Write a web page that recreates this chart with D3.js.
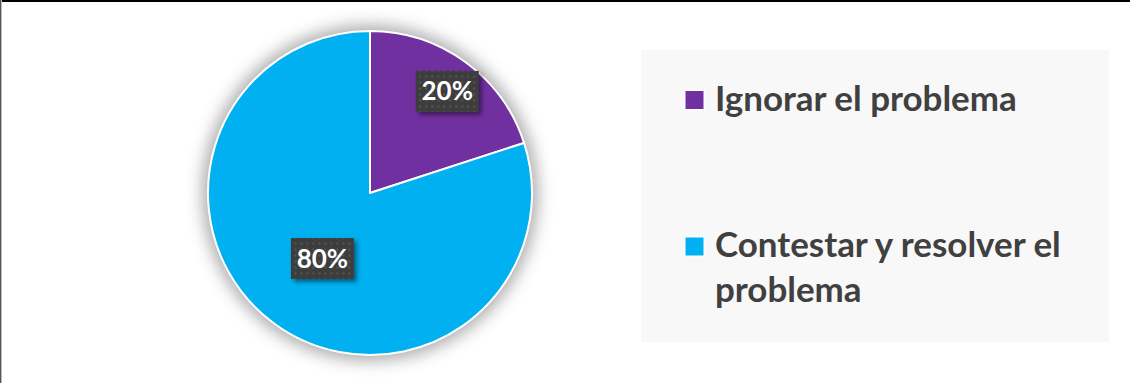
<!DOCTYPE html>
<html>
<head>
<meta charset="utf-8">
<script src="https://cdn.jsdelivr.net/npm/d3@7"></script>
<style>
  html, body { margin: 0; padding: 0; background: #fff; }
  svg { display: block; }
</style>
</head>
<body>
<svg id="chart" width="1130" height="383"></svg>
<script>
// Pie data: response choices and their shares
const categories = ["Ignorar el problema", "Contestar y resolver el problema"];
const values = [20, 80];
const labels = ["20%", "80%"];
const colors = ["#7030A0", "#00B0F0"];
// legend text broken into lines
const legendLines = [["Ignorar el problema"], ["Contestar y resolver el", "problema"]];

const svg = d3.select("#chart");
const W = 1130, H = 383;

// frame lines
svg.append("rect").attr("x", 0).attr("y", 0).attr("width", W).attr("height", 2).attr("fill", "#000");
svg.append("rect").attr("x", 0).attr("y", 0).attr("width", 1).attr("height", H).attr("fill", "#555");
svg.append("rect").attr("x", 1).attr("y", 0).attr("width", 1).attr("height", H).attr("fill", "#bbb");

const defs = svg.append("defs");
const glow = defs.append("filter").attr("id", "glow")
  .attr("x", "-25%").attr("y", "-25%").attr("width", "150%").attr("height", "150%");
glow.append("feGaussianBlur").attr("stdDeviation", 8);

const lblShadow = defs.append("filter").attr("id", "lblShadow")
  .attr("x", "-30%").attr("y", "-30%").attr("width", "160%").attr("height", "160%");
lblShadow.append("feDropShadow").attr("dx", 3).attr("dy", 3).attr("stdDeviation", 2)
  .attr("flood-color", "#000").attr("flood-opacity", 0.45);

const pat = defs.append("pattern").attr("id", "dots").attr("patternUnits", "userSpaceOnUse")
  .attr("width", 6).attr("height", 6);
pat.append("rect").attr("width", 6).attr("height", 6).attr("fill", "#3d3d3d");
pat.append("rect").attr("x", 2).attr("y", 2).attr("width", 2).attr("height", 2).attr("fill", "#555");

// legend panel
svg.append("rect").attr("x", 641).attr("y", 50).attr("width", 468).attr("height", 292).attr("fill", "#f8f8f8");

// pie
const cx = 370, cy = 193, R = 162;
const pie = d3.pie().sort(null).value(d => d)(values);
const arc = d3.arc().innerRadius(0).outerRadius(R);

const g = svg.append("g").attr("transform", `translate(${cx},${cy})`);
g.append("circle").attr("r", R + 6).attr("fill", "#8a8a8a").attr("opacity", 0.7).attr("filter", "url(#glow)");
g.selectAll("path.slice").data(pie).join("path")
  .attr("class", "slice")
  .attr("d", arc)
  .attr("fill", (d, i) => colors[i])
  .attr("stroke", "#fff").attr("stroke-width", 2).attr("stroke-linejoin", "round");

// data labels, placed along each slice's mid-angle
const labelRadius = [0.79, 0.5];
const boxW = 63, boxH = 41;
pie.forEach((d, i) => {
  const r = R * labelRadius[i];
  const [lx, ly] = d3.arc().innerRadius(r).outerRadius(r).centroid(d);
  const lg = g.append("g").attr("transform", `translate(${lx + (i === 0 ? 2 : 0)},${ly + (i === 0 ? 2 : 0)})`);
  lg.append("rect").attr("x", -boxW / 2).attr("y", -boxH / 2).attr("width", boxW).attr("height", boxH)
    .attr("fill", "url(#dots)").attr("filter", "url(#lblShadow)");
  lg.append("text").attr("text-anchor", "middle").attr("y", 9)
    .attr("font-family", "Lato, 'Open Sans', sans-serif").attr("font-weight", 700)
    .attr("font-size", 26).attr("fill", "#fff").text(labels[i]);
});

// legend
const legendFont = "Lato, 'Open Sans', sans-serif";
const baselines = [[110.5], [257, 302]];
const lg = svg.append("g");
categories.forEach((c, i) => {
  lg.append("rect").attr("x", 685).attr("y", baselines[i][0] - 20).attr("width", 19).attr("height", 19)
    .attr("fill", colors[i]).attr("stroke", "#fff").attr("stroke-width", 1);
  legendLines[i].forEach((line, j) => {
    lg.append("text").attr("class", "leg").attr("x", 715).attr("y", baselines[i][j])
      .attr("font-family", legendFont).attr("font-weight", 700).attr("font-size", 31)
      .attr("fill", "#404040").text(line);
  });
});
// size legend text so the long line spans its row
const probe = lg.selectAll("text.leg").filter(function () { return this.textContent === "Contestar y resolver el"; }).node();
const fs = 31 * 346 / probe.getComputedTextLength();
lg.selectAll("text.leg").attr("font-size", fs);
</script>
</body>
</html>
